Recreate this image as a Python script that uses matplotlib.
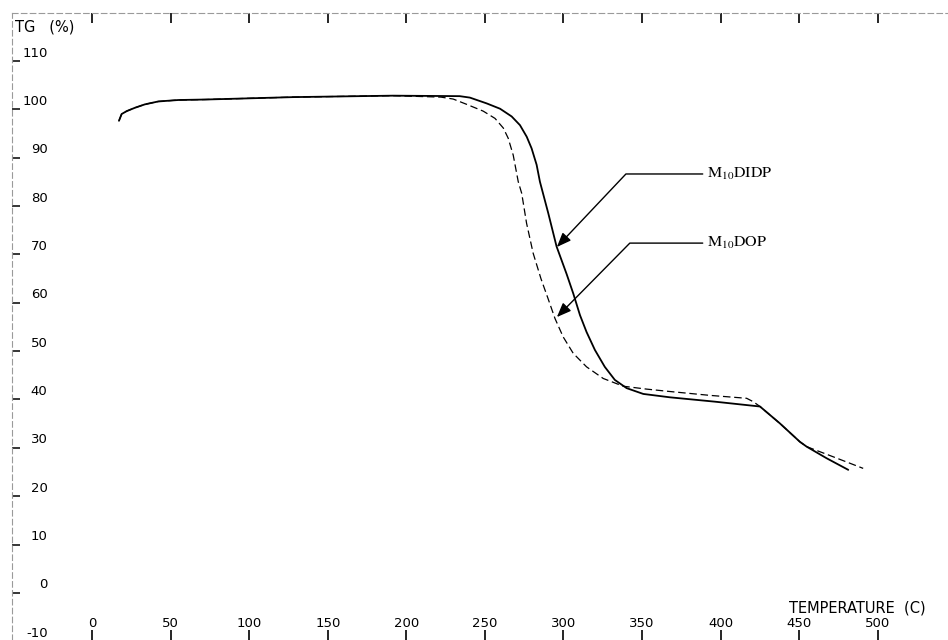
import matplotlib
matplotlib.use("Agg")
import matplotlib.pyplot as plt
from matplotlib.ticker import FixedLocator

plt.rcParams['font.family'] = ['DejaVu Sans']
plt.rcParams['axes.unicode_minus'] = False
plt.rcParams['mathtext.fontset'] = 'stix'

# ---- data ----
temp_didp = [17.0, 18.7, 21.9, 27.2, 33.5, 42.0, 54.7, 71.7, 83.2, 127.8, 191.4, 233.9,
             240.4, 251.1, 259.6, 267.0, 272.3, 276.6, 279.7, 282.9, 285.0, 290.3,
             295.6, 302.0, 306.2, 310.5, 314.7, 320.0, 326.3, 332.7, 340.2, 350.8,
             367.8, 396.4, 425.1, 437.8, 450.5, 454.8, 467.5, 481.3]
tg_didp = [95.7, 97.1, 97.7, 98.4, 99.1, 99.7, 100.0, 100.1, 100.2, 100.6, 100.9, 100.8,
           100.5, 99.3, 98.2, 96.6, 94.8, 92.4, 90.0, 86.6, 83.1, 76.6,
           69.7, 64.0, 60.0, 55.5, 52.0, 48.3, 44.8, 42.1, 40.4, 39.2,
           38.5, 37.6, 36.6, 33.1, 29.3, 28.3, 25.9, 23.5]

temp_dop = [17.0, 18.7, 21.9, 27.2, 33.5, 42.0, 54.7, 71.7, 83.2, 127.8, 191.4, 222.0,
            229.8, 238.4, 248.9, 256.4, 261.7, 264.8, 268.0, 271.2, 273.4, 276.5,
            280.7, 285.7, 290.2, 294.6, 299.8, 306.2, 314.7, 325.3, 338.0, 352.9,
            367.8, 393.3, 416.6, 420.8, 425.1, 437.8, 450.5, 454.8, 471.7, 490.8]
tg_dop = [95.7, 97.1, 97.7, 98.4, 99.1, 99.7, 100.0, 100.1, 100.2, 100.6, 100.9, 100.6,
          100.2, 99.1, 97.7, 96.2, 94.2, 92.1, 88.6, 83.1, 80.7, 74.5,
          68.3, 63.0, 58.9, 54.8, 51.0, 47.6, 44.8, 42.4, 40.8, 40.2,
          39.7, 38.9, 38.3, 37.6, 36.6, 33.1, 29.3, 28.3, 26.2, 23.8]

x_ticks = [0, 50, 100, 150, 200, 250, 300, 350, 400, 450, 500]
y_ticks = [110, 100, 90, 80, 70, 60, 50, 40, 30, 20, 10, 0, -10]

label_didp = r'$\mathrm{M_{10}DIDP}$'
label_dop = r'$\mathrm{M_{10}DOP}$'
didp_text_pos = (391.3, 84.7)
didp_arrow_tip = (295.8, 69.6)
dop_text_pos = (391.3, 70.4)
dop_arrow_tip = (295.8, 55.1)

# ---- figure ----
fig = plt.figure(figsize=(9.48, 6.40), dpi=100)
ax = fig.add_axes([12 / 948, 0.0, 936 / 948, 627 / 640])
ax.set_xlim(-51.1, 544.8)
ax.set_ylim(-11.7, 118.0)

ax.plot(temp_didp, tg_didp, color='black', lw=1.3, solid_capstyle='round', zorder=3)
ax.plot(temp_dop, tg_dop, color='black', lw=0.9, linestyle=(0, (6, 3)), zorder=4)

# spines
for s in ('bottom', 'right'):
    ax.spines[s].set_visible(False)
for s in ('left', 'top'):
    ax.spines[s].set_color('#9a9a9a')
    ax.spines[s].set_linewidth(0.8)
    ax.spines[s].set_linestyle((0, (5, 3)))

# x ticks: marks at bottom and top, labels inside above the bottom edge
ax.set_xticks(x_ticks)
ax.set_xticklabels([str(t) for t in x_ticks])
ax.tick_params(axis='x', which='major', direction='in', length=7, width=1.2,
               top=True, bottom=True, labelsize=9.5, pad=-16.5, colors='black')

# y ticks: labels inside, small marks just below each label
ax.set_yticks(y_ticks)
ax.set_yticklabels([str(t) for t in y_ticks])
ax.tick_params(axis='y', which='major', direction='in', length=0,
               labelsize=9.5, pad=-25.6)
ax.yaxis.set_minor_locator(FixedLocator([v - 1.95 for v in y_ticks]))
ax.tick_params(axis='y', which='minor', direction='in', length=6, width=1.1,
               left=True, colors='black')

ax.set_xlabel('TEMPERATURE  (C)', fontsize=10.5, va='center', ha='center')
ax.xaxis.set_label_coords(0.9028, 0.051)
ax.set_ylabel('TG   (%)', fontsize=10.5, rotation=0, ha='left', va='center')
ax.yaxis.set_label_coords(0.0032, 0.978)

arrow_kw = dict(arrowstyle='-|>,head_length=0.75,head_width=0.3', color='black',
                lw=1.0, shrinkA=1, shrinkB=0)
ax.annotate(label_didp, xy=didp_arrow_tip, xytext=didp_text_pos, fontsize=11.5,
            ha='left', va='center',
            arrowprops=dict(connectionstyle='angle,angleA=0,angleB=46.6,rad=0', **arrow_kw))
ax.annotate(label_dop, xy=dop_arrow_tip, xytext=dop_text_pos, fontsize=11.5,
            ha='left', va='center',
            arrowprops=dict(connectionstyle='angle,angleA=0,angleB=45.4,rad=0', **arrow_kw))

fig.savefig('out.png', dpi=100)
